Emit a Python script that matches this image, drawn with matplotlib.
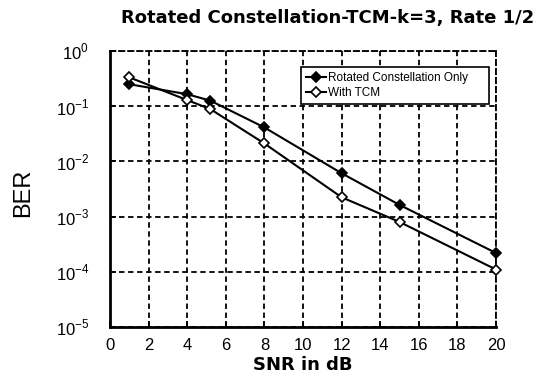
import matplotlib
matplotlib.use("Agg")
import matplotlib.pyplot as plt
from matplotlib.ticker import FixedLocator, FixedFormatter
from matplotlib import font_manager

plt.rcParams['font.family'] = ['Liberation Sans', 'DejaVu Sans']
plt.rcParams['mathtext.fontset'] = 'custom'
plt.rcParams['mathtext.rm'] = 'Liberation Sans'

names = {f.name for f in font_manager.fontManager.ttflist}
narrow = 'Liberation Sans Narrow' if 'Liberation Sans Narrow' in names else 'Liberation Sans'

snr = [1, 4, 5.2, 8, 12, 15, 20]
ber_rot = [0.25, 0.165, 0.126, 0.0412, 0.0061, 0.00163, 0.000219]
ber_tcm = [0.333, 0.129, 0.0886, 0.0211, 0.00224, 0.00080, 0.00011]
xticks = [0, 2, 4, 6, 8, 10, 12, 14, 16, 18, 20]
yticks = [1e-5, 1e-4, 1e-3, 1e-2, 1e-1, 1e0]
ytick_labels = ['$10^{-5}$', '$10^{-4}$', '$10^{-3}$', '$10^{-2}$', '$10^{-1}$', '$10^{0}$']

fig = plt.figure(figsize=(5.4, 3.77), dpi=100)
ax = fig.add_axes([110/540, 1-327/377, (496-110)/540, (327-51)/377])

ax.plot(snr, ber_rot, color='black', lw=1.5, marker='D', ms=5, mfc='black', mec='black',
        mew=1.2, clip_on=False, zorder=5, label='Rotated Constellation Only')
ax.plot(snr, ber_tcm, color='black', lw=1.5, marker='D', ms=5, mfc='white', mec='black',
        mew=1.2, clip_on=False, zorder=5, label='With TCM')

ax.set_yscale('log')
ax.set_xlim(0, 20)
ax.set_ylim(1e-5, 1e0)
ax.xaxis.set_major_locator(FixedLocator(xticks))
ax.yaxis.set_major_locator(FixedLocator(yticks))
ax.yaxis.set_major_formatter(FixedFormatter(ytick_labels))
ax.yaxis.set_minor_locator(FixedLocator([]))
ax.tick_params(direction='in', length=4, width=1.2, labelsize=12)
ax.tick_params(axis='x', pad=8)
ax.tick_params(axis='y', pad=15)
ax.grid(True, which='major', color='black', linestyle=(0, (3, 2)), lw=1.3)
for s in ax.spines.values():
    s.set_linestyle((0, (3, 2)))
    s.set_linewidth(1.3)
ax.spines['left'].set_linestyle('-')
ax.spines['bottom'].set_linestyle('-')
ax.spines['left'].set_linewidth(2)
ax.spines['bottom'].set_linewidth(2)

ax.set_xlabel('SNR in dB', fontsize=13, fontweight='bold', family=['DejaVu Sans'], labelpad=2)
fig.text(23/540, 1-193/377, 'BER', rotation=90, ha='center', va='center',
         fontsize=17, family=[narrow, 'DejaVu Sans'])
fig.text(328/540, 1-18/377, 'Rotated Constellation-TCM-k=3, Rate 1/2', ha='center', va='center',
         fontsize=13, fontweight='bold', family=['DejaVu Sans'])

x0 = (301-110)/386
w = (489-301)/386
ytop = (327-67)/276
h = 35/276
leg = ax.legend(loc='upper left', bbox_to_anchor=(x0, ytop-h, w, h), mode='expand',
                fontsize=8.5, frameon=True, fancybox=False, edgecolor='black', framealpha=1,
                borderpad=0.45, handlelength=1.7, handletextpad=0.1, labelspacing=0.2,
                borderaxespad=0)
leg.get_frame().set_linewidth(1.2)
leg.set_zorder(10)

fig.savefig('out.png', dpi=100)
